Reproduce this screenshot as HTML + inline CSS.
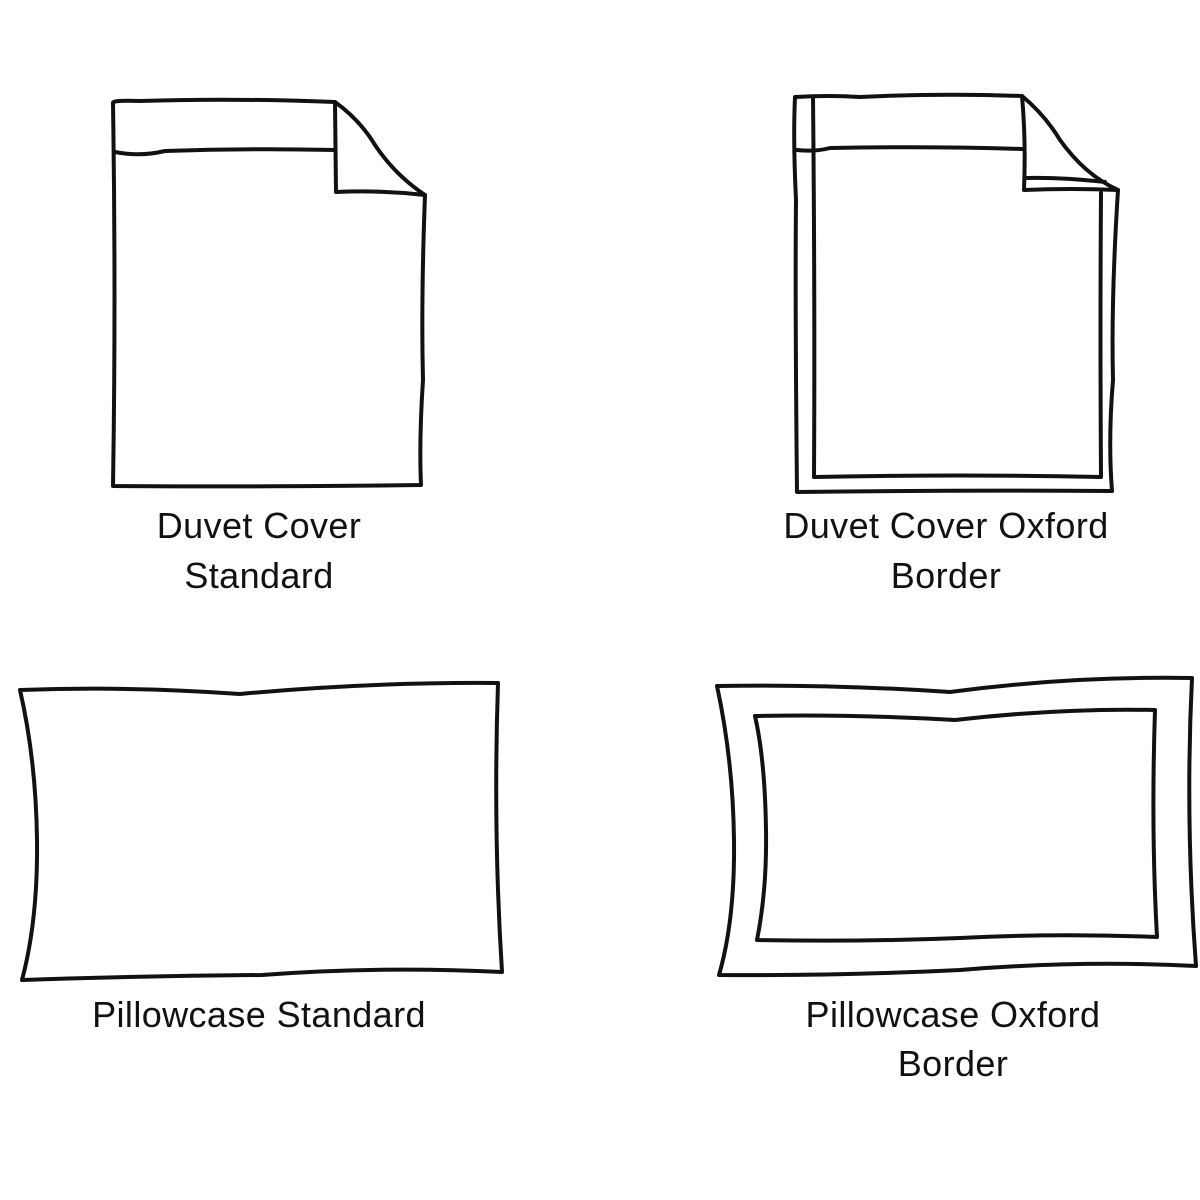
<!DOCTYPE html>
<html><head><style>
body{margin:0;background:#fff;width:1200px;height:1200px;overflow:hidden}
svg{position:absolute;left:0;top:0}
text{font-family:"Liberation Sans",sans-serif;font-size:36px;letter-spacing:0.4px;fill:#111;text-anchor:middle}
</style></head><body>
<svg width="1200" height="1200" viewBox="0 0 1200 1200">
<g fill="none" stroke="#111" stroke-width="4" stroke-linejoin="round" stroke-linecap="round">
<!-- Duvet standard -->
<path d="M113,103 Q112,100 140,101 Q230,98 335,102 Q360,120 375,145 Q395,175 425,195 Q421,300 423,380 Q419,440 421,485 Q300,487 113,486 Q116,300 113,103 Z"/>
<path d="M335,102 L336,192 Q380,190 425,195"/>
<path d="M115,152 Q140,157 165,151 Q250,148 335,150"/>
<!-- Duvet oxford -->
<path d="M795,97 Q830,95 860,97 Q940,93 1022,96 Q1045,115 1060,140 Q1085,175 1118,190 Q1111,300 1113,380 Q1108,440 1112,491 Q950,490 797,492 Q795,300 796,200 Q793,140 795,97 Z"/>
<path d="M813,97 Q815,300 814,477 Q960,474 1101,477 Q1100,330 1101,193"/>
<path d="M1022,96 Q1026,140 1024,190 Q1070,188 1118,190"/>
<path d="M1025,178 Q1060,177 1105,182"/>
<path d="M797,150 Q815,152 830,148 Q930,146 1022,149"/>
<!-- Pillow standard -->
<path d="M20,690 Q130,686 240,694 Q370,682 498,683 Q493,830 502,972 Q380,966 262,975 Q140,976 22,980 Q38,920 37,840 Q36,760 20,690 Z"/>
<!-- Pillow oxford -->
<path d="M717,686 Q830,684 950,692 Q1070,676 1192,678 Q1185,820 1196,966 Q1080,960 960,970 Q840,976 719,975 Q735,920 734,840 Q733,760 717,686 Z"/>
<path d="M755,716 Q850,714 955,720 Q1060,708 1155,710 Q1151,830 1157,937 Q1060,933 960,938 Q860,942 757,940 Q767,890 766,830 Q765,760 755,716 Z"/>
</g>
<text x="259" y="538">Duvet Cover</text>
<text x="259" y="588">Standard</text>
<text x="946" y="538">Duvet Cover Oxford</text>
<text x="946" y="588">Border</text>
<text x="259" y="1027">Pillowcase Standard</text>
<text x="953" y="1027">Pillowcase Oxford</text>
<text x="953" y="1076">Border</text>
</svg>
</body></html>
